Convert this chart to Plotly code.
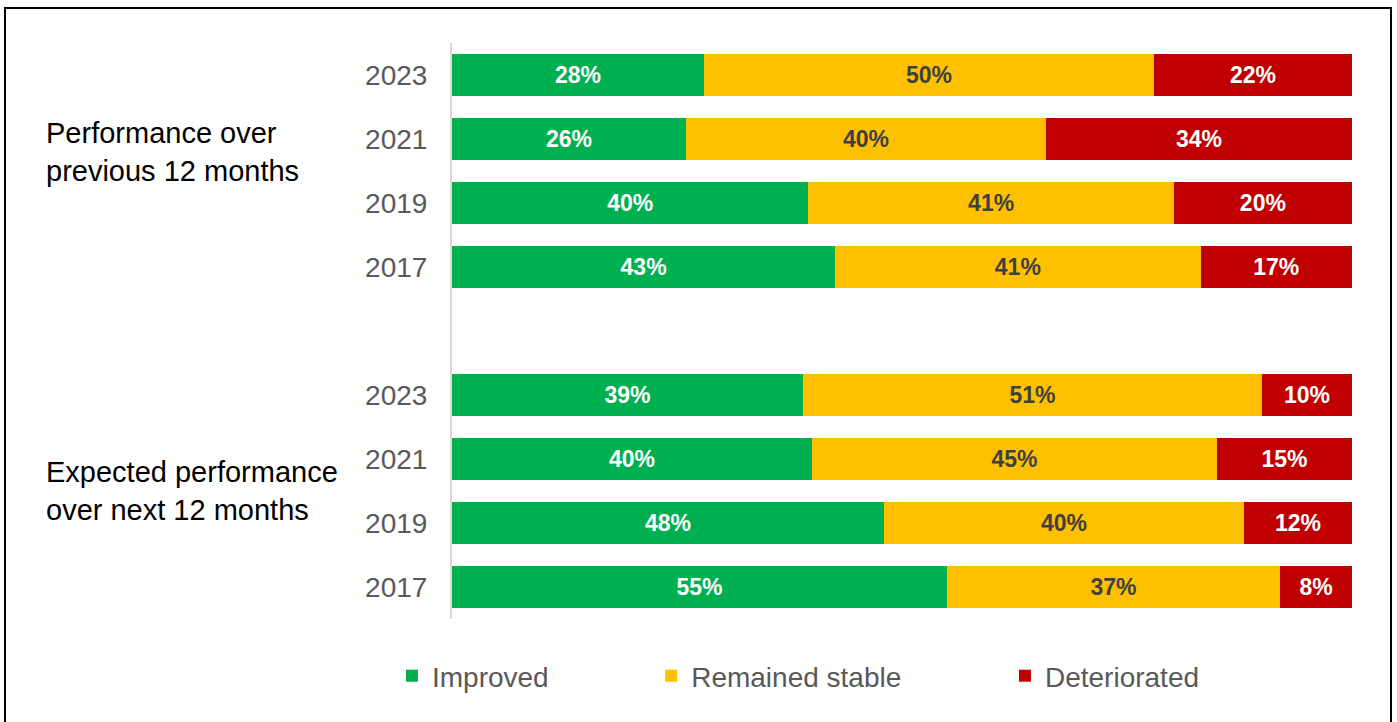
import plotly.graph_objects as go

# Survey periods shown in each block (top to bottom)
years = ["2023", "2021", "2019", "2017"]
groups = ["Performance over<br>previous 12 months", "Expected performance<br>over next 12 months"]

# Shares of respondents (%), one list per group in the order of `years`
improved = [[28, 26, 40, 43], [39, 40, 48, 55]]
stable = [[50, 40, 41, 41], [51, 45, 40, 37]]
deteriorated = [[22, 34, 20, 17], [10, 15, 12, 8]]

series = [
    ("Improved", improved, "#00B050", "white"),
    ("Remained stable", stable, "#FFC000", "#404040"),
    ("Deteriorated", deteriorated, "#C00000", "white"),
]

FONT = "Liberation Sans, Arial, sans-serif"

# Row positions: the two blocks are separated by one empty row
slot = len(years) + 1
rows = [g * slot + i for g in range(len(groups)) for i in range(len(years))]
row_labels = [y for _ in groups for y in years]

fig = go.Figure()
legend_ids = ["legend", "legend2", "legend3"]
for k, (name, data, color, txtcolor) in enumerate(series):
    vals = [v for grp in data for v in grp]
    fig.add_trace(go.Bar(
        y=rows,
        x=vals,
        orientation="h",
        name=name,
        marker=dict(color=color, line=dict(width=0)),
        text=[f"{v}%" for v in vals],
        textposition="inside",
        insidetextanchor="middle",
        textangle=0,
        textfont=dict(family=FONT, size=23, color=txtcolor, weight="bold"),
        hoverinfo="skip",
        legend=legend_ids[k],
    ))

# Block titles, placed beside each group of bars
title_rows = [1.2, slot + 1.5]
annotations = [
    dict(text=g, xref="paper", yref="y", x=-0.4533, y=ty, xanchor="left", yanchor="middle",
         align="left", showarrow=False, font=dict(family=FONT, size=29, color="black"))
    for g, ty in zip(groups, title_rows)
]

legend_x = [-0.0667, 0.2213, 0.6144]
legend_common = dict(orientation="h", yanchor="middle", y=-0.099, xanchor="left",
                     font=dict(family=FONT, size=28, color="#595959"),
                     bgcolor="rgba(0,0,0,0)", itemwidth=30)

fig.update_layout(
    width=1397,
    height=722,
    barmode="stack",
    barnorm="percent",
    bargap=0.33,
    uniformtext=dict(mode=False),
    plot_bgcolor="white",
    paper_bgcolor="white",
    margin=dict(l=452, r=45, t=43, b=103),
    xaxis=dict(range=[0, 100], visible=False, fixedrange=True),
    yaxis=dict(
        range=[len(rows) + len(groups) - 1.5, -0.5],
        tickvals=rows,
        ticktext=row_labels,
        tickfont=dict(family=FONT, size=28, color="#595959"),
        showline=True,
        linecolor="#D9D9D9",
        linewidth=2,
        showgrid=False,
        zeroline=False,
        ticks="",
        ticklabelstandoff=17,
    ),
    annotations=annotations,
    legend=dict(x=legend_x[0], **legend_common),
    legend2=dict(x=legend_x[1], **legend_common),
    legend3=dict(x=legend_x[2], **legend_common),
    shapes=[dict(type="rect", xref="paper", yref="paper",
                 x0=(5 - 452) / 900, x1=(1391 - 452) / 900,
                 y0=-0.25, y1=1 + (43 - 8) / 576,
                 line=dict(color="black", width=2), fillcolor="rgba(0,0,0,0)", layer="below")],
    showlegend=True,
)

fig.write_html("out.html")
